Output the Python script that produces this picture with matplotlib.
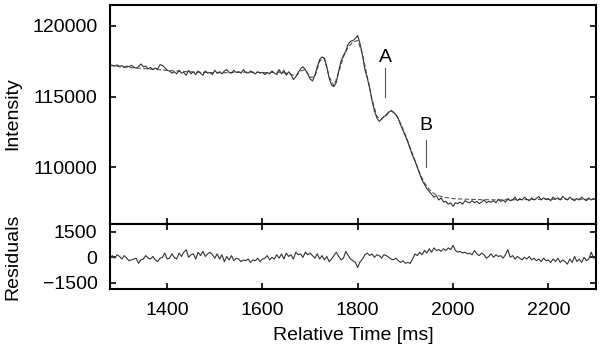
import numpy as np
import matplotlib.pyplot as plt

plt.rcParams["font.family"] = ["Liberation Sans", "DejaVu Sans"]

# measured signal, one sample every 5 ms from 1280 to 2300 ms
time = np.arange(1280, 2301, 5)
intensity = [
    117250, 117200, 117150, 117230, 117120, 117180, 117050, 117150, 117100, 117200,
    117080, 117000, 117120, 117300, 117100, 117150, 116950, 117050, 116900, 117000,
    116950, 117250, 117200, 117050, 116850, 116800, 116650, 116750, 116600, 116850,
    116650, 116700, 116500, 116850, 116600, 116750, 116550, 116800, 116650, 116500,
    116800, 116650, 116700, 116550, 116850, 116650, 116750, 116600, 116800, 116900,
    116700, 116650, 116850, 116700, 116750, 116650, 116900, 116700, 116650, 116800,
    116700, 116600, 116750, 116650, 116700, 116550, 116700, 116600, 116800, 116650,
    116550, 116900, 116600, 116850, 116500, 116750, 116550, 116200, 116400, 116700,
    116950, 117100, 116900, 116600, 116250, 116100, 116500, 117100, 117600, 117800,
    117700, 117100, 116300, 115800, 115700, 116000, 116800, 117500, 117900, 118200,
    118700, 118900, 118950, 119100, 119300, 118700, 117900, 116900, 116300, 115600,
    114700, 114000, 113500, 113250, 113400, 113600, 113650, 113900, 114000, 113900,
    113700, 113450, 113000, 112600, 112200, 111800, 111300, 110850, 110450, 110000,
    109550, 109100, 108800, 108500, 108300, 108100, 107900, 108000, 107700, 107850,
    107550, 107600, 107400, 107500, 107250, 107500, 107450, 107550, 107400, 107650,
    107550, 107500, 107650, 107500, 107600, 107450, 107550, 107700, 107500, 107600,
    107550, 107650, 107500, 107750, 107600, 107700, 107550, 107800, 107650, 107700,
    107900, 107650, 107800, 107700, 107900, 107750, 107650, 107850, 107700, 107800,
    107950, 107700, 107850, 107750, 107800, 107650, 107900, 107750, 107850, 107700,
    107950, 107800, 107700, 107900, 107750, 107650, 107800, 107700, 107900, 107750,
    107650, 107850, 107700, 107800, 107750,
]

# fitted model, every 10 ms
fit_time = np.arange(1280, 2301, 10)
fit = [
    117200, 117150, 117100, 117080, 117050, 117020, 117000, 116980, 116950, 116920,
    116900, 116870, 116850, 116820, 116800, 116780, 116760, 116740, 116720, 116710,
    116700, 116690, 116680, 116680, 116680, 116690, 116700, 116710, 116720, 116720,
    116710, 116700, 116690, 116680, 116700, 116720, 116700, 116650, 116550, 116450,
    116800, 116900, 116350, 116400, 117500, 117700, 116400, 115750, 116700, 117800,
    118500, 118850, 118950, 118000, 116400, 114800, 113600, 113400, 113750, 114000,
    113750, 113100, 112300, 111400, 110500, 109600, 108900, 108450, 108150, 108000,
    107900, 107850, 107800, 107780, 107760, 107750, 107740, 107730, 107720, 107720,
    107710, 107710, 107710, 107720, 107720, 107720, 107730, 107730, 107730, 107740,
    107740, 107740, 107740, 107750, 107750, 107750, 107750, 107750, 107750, 107750,
    107750, 107750, 107750,
]

residuals = [
    0, 100, -50, 150, 50, -100, 100, -50, -200, -150,
    -100, -50, -350, -150, -100, 100, -50, -100, 50, -150,
    -250, -50, 0, 250, -100, -50, 200, 0, -100, 250,
    50, 300, 450, 0, 150, 200, -100, 300, 100, 350,
    50, 200, 300, 150, -50, 200, -100, 150, -250, 50,
    -150, 100, -200, -50, -100, -250, -150, -200, -100, -300,
    -150, -200, -50, -250, -100, -50, 100, -150, 0, -100,
    150, -50, 200, -100, 250, 50, 150, -100, 300, 150,
    200, 0, 300, 150, 250, 100, -50, 200, -100, 100,
    -150, 50, -250, -100, 100, 300, 50, -150, -50, 350,
    100, -100, -200, -300, -600, -250, -100, 150, 250, 100,
    200, 0, 150, 100, -50, 150, 100, 0, -100, -150,
    -50, -200, -300, -200, -350, -300, -350, -100, 200, 100,
    300, 150, 400, 250, 500, 300, 550, 400, 450, 350,
    500, 400, 550, 450, 700, 400, 300, 350, 250, 300,
    200, 250, 150, 400, 200, 100, 250, 150, -50, 50,
    200, 0, 150, 50, 100, -50, 150, 450, 0, 100,
    -100, 50, -50, -150, 0, -100, 50, -150, -50, -200,
    -100, -250, -50, -200, -150, -300, -100, -250, -50, -300,
    -150, -250, -400, -100, -300, 50, -250, -100, -300, 0,
    -200, -100, 300, -50, 0,
]

# labelled features: (name, time, text y, line top, line bottom)
marks = [
    ("A", 1858, 117150, 117000, 115000),
    ("B", 1943, 112350, 111950, 110000),
]

fig = plt.figure(figsize=(6, 3.56), dpi=100)
ax = fig.add_axes([0.1833, 0.3694, 0.81, 0.6166])
ax2 = fig.add_axes([0.1833, 0.1874, 0.81, 0.182], sharex=ax)

ax.plot(fit_time, fit, color="#555555", lw=0.8, ls=(0, (4, 2)))
ax.plot(time, intensity, color="#333333", lw=0.8)
for name, t, ty, y0, y1 in marks:
    ax.text(t, ty, name, ha="center", va="bottom", fontsize=14)
    ax.plot([t, t], [y0, y1], color="#555555", lw=0.8)

ax2.plot(time, residuals, color="#333333", lw=0.8)

ax.set_xlim(1280, 2300)
ax.set_ylim(105970, 121460)
ax.set_yticks([110000, 115000, 120000])
ax2.set_ylim(-1870, 1920)
ax2.set_yticks([-1500, 0, 1500])
ax2.set_xticks([1400, 1600, 1800, 2000, 2200])

ax.tick_params(direction="in", length=4, width=1.2, labelsize=14, pad=9,
               right=True, labelbottom=False)
ax2.tick_params(direction="in", length=4, width=1.2, labelsize=14, pad=9,
                right=True, top=True)
for a in (ax, ax2):
    for s in a.spines.values():
        s.set_linewidth(1.5)

fig.text(0.022, 0.68, "Intensity", rotation=90, ha="center", va="center", fontsize=14)
fig.text(0.022, 0.278, "Residuals", rotation=90, ha="center", va="center", fontsize=14)
ax2.set_xlabel("Relative Time [ms]", fontsize=14, labelpad=6)

fig.savefig("out.png", dpi=100)
